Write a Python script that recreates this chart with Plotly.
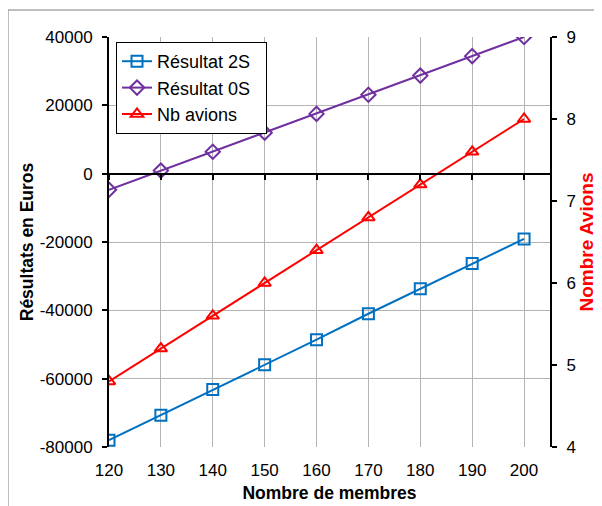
import plotly.graph_objects as go

membres = [120, 130, 140, 150, 160, 170, 180, 190, 200]
resultat_2s = [-78000, -70700, -63200, -55900, -48600, -41000, -33700, -26300, -19100]
resultat_0s = [-4700, 900, 6400, 12000, 17500, 23100, 28700, 34400, 40000]
nb_avions = [4.8, 5.2, 5.6, 6.0, 6.4, 6.8, 7.2, 7.6, 8.0]

left_ticks = [-80000, -60000, -40000, -20000, 0, 20000, 40000]
left_labels = ["-80000", "-60000", "-40000", "-20000", "0", "20000", "40000"]
right_ticks = [4, 5, 6, 7, 8, 9]
x_ticks = membres

BLUE = "#0070C0"
PURPLE = "#7030A0"
RED = "#FF0000"
FONT = "Arial, Liberation Sans, sans-serif"
PAD = "\u00a0\u00a0"

# page is shifted by the 8px body margin of the html page
OFF = 8
PAGE_W, PAGE_H = 602, 506
W, H = PAGE_W - OFF, PAGE_H - OFF
# plot area in page pixels
PL, PR, PT, PB = 109, 550, 37, 447
L, R, T, B = PL - OFF, PAGE_W - PR, PT - OFF, PAGE_H - PB
pw, ph = PR - PL, PB - PT

fig = go.Figure()
fig.add_trace(go.Scatter(
    x=membres, y=resultat_2s, name="Résultat 2S" + PAD, mode="lines+markers",
    line=dict(color=BLUE, width=2),
    marker=dict(symbol="square-open", size=11, color=BLUE, line=dict(width=2, color=BLUE)),
))
fig.add_trace(go.Scatter(
    x=membres, y=resultat_0s, name="Résultat 0S", mode="lines+markers",
    line=dict(color=PURPLE, width=2),
    marker=dict(symbol="diamond-open", size=11, color=PURPLE, line=dict(width=2, color=PURPLE)),
))
fig.add_trace(go.Scatter(
    x=membres, y=nb_avions, name="Nb avions", mode="lines+markers", yaxis="y2",
    line=dict(color=RED, width=2),
    marker=dict(symbol="triangle-up-open", size=11, color=RED, line=dict(width=2, color=RED)),
))
# invisible trace for the zero-line x axis
fig.add_trace(go.Scatter(x=[membres[0]], y=[0], xaxis="x2", mode="markers",
                         marker=dict(opacity=0), showlegend=False, hoverinfo="skip"))

xr = [120, 205]
yr = [-80000, 40000]
fig.update_layout(
    width=W, height=H,
    margin=dict(l=L, r=R, t=T, b=B, autoexpand=False),
    paper_bgcolor="white", plot_bgcolor="white",
    font=dict(family=FONT, size=17, color="black"),
    showlegend=True,
    legend=dict(x=(116 - PL) / pw, y=(PB - 42) / ph, xanchor="left", yanchor="top",
                bgcolor="white", bordercolor="black", borderwidth=1,
                font=dict(size=18, family=FONT), tracegroupgap=0),
    xaxis=dict(range=xr, tickvals=x_ticks, ticks="", showgrid=True, gridcolor="#b4b4b4",
               gridwidth=1, zeroline=False, showline=False, automargin=False,
               tickfont=dict(size=17), ticklabelstandoff=11,
               title=dict(text="<b>Nombre de membres</b>", font=dict(size=17.5), standoff=7)),
    xaxis2=dict(range=xr, overlaying="x", anchor="free", position=(0 - yr[0]) / (yr[1] - yr[0]),
                side="bottom", tickvals=x_ticks, showticklabels=False, ticks="outside",
                ticklen=5, tickwidth=2, tickcolor="black", showline=True, linecolor="black",
                linewidth=2, showgrid=False, zeroline=False, automargin=False),
    yaxis=dict(range=yr, tickvals=left_ticks, ticktext=left_labels, showgrid=True,
               gridcolor="#b4b4b4", gridwidth=1, automargin=False,
               zeroline=False, showline=True, linecolor="black", linewidth=2,
               ticks="outside", ticklen=5, tickwidth=2, tickcolor="black",
               tickfont=dict(size=17), ticklabelstandoff=6,
               title=dict(text="<b>Résultats en Euros</b>", font=dict(size=17.5), standoff=2)),
    yaxis2=dict(range=[4, 9], tickvals=right_ticks, overlaying="y", side="right",
                showgrid=False, zeroline=False, showline=True, linecolor="black", linewidth=2,
                ticks="outside", ticklen=5, tickwidth=2, tickcolor="black", automargin=False,
                tickfont=dict(size=17), ticklabelstandoff=6,
                title=dict(text="<b>Nombre Avions</b>", font=dict(size=19, color=RED), standoff=4)),
    shapes=[dict(type="rect", xref="paper", yref="paper",
                 x0=(8 - PL) / pw, x1=(PAGE_W + 20 - PL) / pw,
                 y0=(PB - (PAGE_H + 20)) / ph, y1=(PB - 10) / ph,
                 line=dict(color="#7f7f7f", width=1), layer="below")],
)

fig.write_html("out.html")
